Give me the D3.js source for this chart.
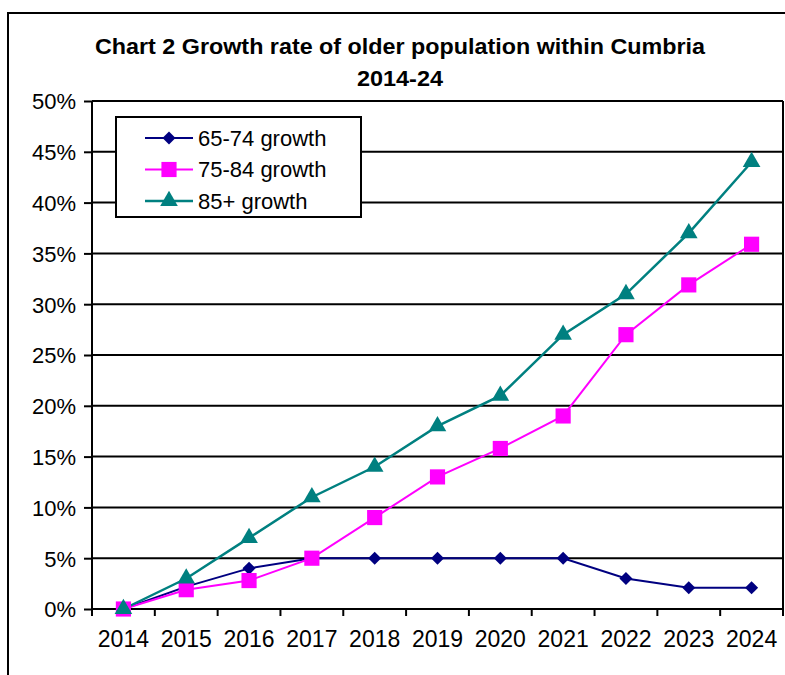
<!DOCTYPE html>
<html>
<head>
<meta charset="utf-8">
<script src="https://cdn.jsdelivr.net/npm/d3@7"></script>
<style>
  body { margin: 0; background: #fff; }
  svg { display: block; font-family: "Liberation Sans", Arial, sans-serif; }
</style>
</head>
<body>
<div id="chart"></div>
<script>
// chart data
const years = ["2014", "2015", "2016", "2017", "2018", "2019", "2020", "2021", "2022", "2023", "2024"];
const growth6574 = [0, 2.2, 4, 5, 5, 5, 5, 5, 3, 2.1, 2.1];
const growth7584 = [0, 1.9, 2.8, 5, 9, 13, 15.8, 19, 27, 31.9, 35.9];
const growth85 = [0, 3, 7, 11, 14, 18, 21, 27, 31, 37, 44];
const yTicks = [0, 5, 10, 15, 20, 25, 30, 35, 40, 45, 50];
const seriesNames = ["65-74 growth", "75-84 growth", "85+ growth"];

// diamond = square turned 45 degrees
const series = [
  { name: seriesNames[0], values: growth6574, color: "#000080", marker: d3.symbolSquare, rot: 45, size: 85, width: 2 },
  { name: seriesNames[1], values: growth7584, color: "#ff00ff", marker: d3.symbolSquare, rot: 0, size: 230, width: 2 },
  { name: seriesNames[2], values: growth85, color: "#008080", marker: d3.symbolTriangle, rot: 0, size: 135, width: 2.5 }
];

const svg = d3.select("#chart")
  .append("svg")
  .attr("width", 785)
  .attr("height", 675);

// outer frame (runs off the right and bottom edges)
svg.append("rect")
  .attr("x", 8)
  .attr("y", 13)
  .attr("width", 800)
  .attr("height", 700)
  .attr("fill", "none")
  .attr("stroke", "#000")
  .attr("stroke-width", 2);

// title
svg.append("text")
  .attr("x", 400)
  .attr("y", 54)
  .attr("text-anchor", "middle")
  .attr("textLength", 610)
  .attr("lengthAdjust", "spacingAndGlyphs")
  .style("font-size", "22px")
  .style("font-weight", "bold")
  .text("Chart 2 Growth rate of older population within Cumbria");

svg.append("text")
  .attr("x", 400)
  .attr("y", 86)
  .attr("text-anchor", "middle")
  .attr("textLength", 86)
  .attr("lengthAdjust", "spacingAndGlyphs")
  .style("font-size", "22px")
  .style("font-weight", "bold")
  .text("2014-24");

const plotLeft = 92, plotRight = 783, plotTop = 101, plotBottom = 609;

const x = d3.scaleBand()
  .domain(years)
  .range([plotLeft, plotRight])
  .padding(0);

const y = d3.scaleLinear()
  .domain([0, 50])
  .range([plotBottom, plotTop]);

// gridlines
svg.append("g")
  .selectAll("line")
  .data(yTicks.filter(d => d > 0))
  .enter().append("line")
  .attr("x1", plotLeft)
  .attr("x2", plotRight)
  .attr("y1", d => y(d))
  .attr("y2", d => y(d))
  .attr("stroke", "#000")
  .attr("stroke-width", 2);

// plot area right border
svg.append("line")
  .attr("x1", plotRight)
  .attr("x2", plotRight)
  .attr("y1", plotTop)
  .attr("y2", plotBottom)
  .attr("stroke", "#000")
  .attr("stroke-width", 2);

// y axis
const yAxis = svg.append("g")
  .attr("transform", `translate(${plotLeft},0)`)
  .call(d3.axisLeft(y).tickValues(yTicks).tickSize(8).tickPadding(8).tickFormat(d => d + "%"));
yAxis.selectAll("line").attr("stroke", "#000").attr("stroke-width", 2);
yAxis.select(".domain").attr("stroke", "#000").attr("stroke-width", 2).attr("d", `M0,${plotTop}V${plotBottom}`);
yAxis.selectAll("text")
  .style("font-size", "22px")
  .attr("fill", "#000")
  .attr("dy", "0.36em");

// x axis: labels centred in bands, ticks on band edges
const xAxis = svg.append("g")
  .attr("transform", `translate(0,${plotBottom})`)
  .call(d3.axisBottom(x).tickSize(0).tickPadding(22));
xAxis.select(".domain").attr("stroke", "#000").attr("stroke-width", 2).attr("d", `M${plotLeft},0H${plotRight}`);
xAxis.selectAll("text")
  .style("font-size", "23px")
  .attr("fill", "#000");

svg.append("g")
  .selectAll("line")
  .data(years.concat(["end"]))
  .enter().append("line")
  .attr("x1", d => d === "end" ? plotRight : x(d))
  .attr("x2", d => d === "end" ? plotRight : x(d))
  .attr("y1", plotBottom)
  .attr("y2", plotBottom + 7)
  .attr("stroke", "#000")
  .attr("stroke-width", 2);

const cx = d => x(d) + x.bandwidth() / 2;

const line = d3.line()
  .x((d, i) => cx(years[i]))
  .y(d => y(d));

// lines and markers, drawn in series order
series.forEach(s => {
  svg.append("path")
    .datum(s.values)
    .attr("fill", "none")
    .attr("stroke", s.color)
    .attr("stroke-width", s.width)
    .attr("d", line);
});

series.forEach(s => {
  svg.append("g")
    .selectAll("path")
    .data(s.values)
    .enter().append("path")
    .attr("transform", (d, i) => `translate(${cx(years[i])},${y(d)}) rotate(${s.rot})`)
    .attr("d", d3.symbol().type(s.marker).size(s.size))
    .attr("fill", s.color);
});

// legend
const legend = svg.append("g");
legend.append("rect")
  .attr("x", 116)
  .attr("y", 117)
  .attr("width", 245)
  .attr("height", 100)
  .attr("fill", "#fff")
  .attr("stroke", "#000")
  .attr("stroke-width", 2);

const rows = legend.selectAll(".row")
  .data(series)
  .enter().append("g")
  .attr("class", "row")
  .attr("transform", (d, i) => `translate(0,${138 + i * 31.5})`);

rows.append("line")
  .attr("x1", 145)
  .attr("x2", 193)
  .attr("stroke", d => d.color)
  .attr("stroke-width", d => d.width);

rows.append("path")
  .attr("transform", d => `translate(169,0) rotate(${d.rot})`)
  .attr("d", d => d3.symbol().type(d.marker).size(d.size)())
  .attr("fill", d => d.color);

rows.append("text")
  .attr("x", 198)
  .attr("dy", "0.36em")
  .style("font-size", "22px")
  .text(d => d.name);
</script>
</body>
</html>
